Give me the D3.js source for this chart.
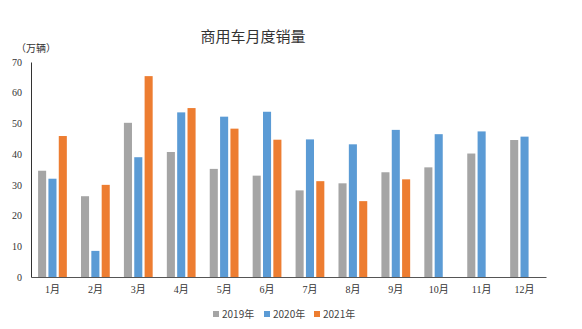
<!DOCTYPE html>
<html>
<head>
<meta charset="utf-8">
<script src="https://cdn.jsdelivr.net/npm/d3@7/dist/d3.min.js"></script>
<style>
  html, body { margin: 0; padding: 0; background: #fff; }
  svg { display: block; }
</style>
</head>
<body>
<svg id="chart" width="582" height="329"></svg>
<script>
// Monthly commercial vehicle sales (10k units)
const months = ["1月","2月","3月","4月","5月","6月","7月","8月","9月","10月","11月","12月"];
const seriesNames = ["2019年","2020年","2021年"];
const sales2019 = [34.6, 26.3, 50.2, 40.7, 35.2, 33.0, 28.2, 30.5, 34.1, 35.7, 40.2, 44.6];
const sales2020 = [32.0, 8.5, 39.0, 53.6, 52.2, 53.8, 44.8, 43.2, 47.9, 46.5, 47.4, 45.7];
const sales2021 = [45.9, 30.0, 65.4, 55.0, 48.3, 44.7, 31.2, 24.7, 31.8];
const yTicks = [0, 10, 20, 30, 40, 50, 60, 70];
const colors = ["#a5a5a5", "#5b9bd5", "#ed7d31"];

const series = [sales2019, sales2020, sales2021];

const svg = d3.select("#chart");
const margin = { left: 31, right: 36, top: 62, bottom: 52 };
const W = 582, H = 329;

const x = d3.scaleBand()
  .domain(months)
  .range([margin.left, W - margin.right])
  .paddingInner(0.33)
  .paddingOuter(0.165);

const xs = d3.scaleBand()
  .domain(d3.range(series.length))
  .range([0, x.bandwidth()])
  .paddingInner(0.22);

const y = d3.scaleLinear().domain([0, 70]).range([H - margin.bottom, margin.top]);

const serif = "'Liberation Serif','Times New Roman','Noto Sans CJK SC',serif";
const sans = "'Noto Sans CJK SC','Noto Sans',sans-serif";

// Title
svg.append("text")
  .attr("x", 253).attr("y", 42)
  .attr("text-anchor", "middle")
  .attr("font-family", sans)
  .attr("font-size", 15)
  .attr("fill", "#333")
  .text("商用车月度销量");

// Unit label
svg.append("text")
  .attr("x", 36).attr("y", 52)
  .attr("text-anchor", "middle")
  .attr("font-family", sans)
  .attr("font-size", 10)
  .attr("fill", "#333")
  .text("（万辆）");

// Bars
const groups = svg.append("g").selectAll("g")
  .data(series)
  .join("g")
  .attr("fill", (d, i) => colors[i]);

groups.each(function(vals, si) {
  d3.select(this).selectAll("rect")
    .data(vals.map((v, mi) => ({ v, m: months[mi] })))
    .join("rect")
    .attr("x", d => x(d.m) + xs(si))
    .attr("width", xs.bandwidth())
    .attr("y", d => y(d.v))
    .attr("height", d => y(0) - y(d.v));
});

// Y axis
const yAxis = svg.append("g")
  .attr("transform", `translate(${margin.left},0)`)
  .call(d3.axisLeft(y).tickValues(yTicks).tickSize(0).tickPadding(9));
yAxis.select(".domain").attr("stroke", "#333").attr("stroke-width", 1);
yAxis.selectAll("text")
  .attr("font-family", serif)
  .attr("font-size", 10)
  .attr("fill", "#333");

// X axis
const xAxis = svg.append("g")
  .attr("transform", `translate(0,${y(0)})`)
  .call(d3.axisBottom(x).tickSize(0).tickPadding(9));
xAxis.select(".domain").attr("stroke", "#555").attr("stroke-width", 1.2);
xAxis.selectAll("text")
  .attr("font-family", serif)
  .attr("font-size", 10)
  .attr("fill", "#333");

// Legend
const legendX = [213, 264, 314];
const legend = svg.append("g").selectAll("g")
  .data(seriesNames)
  .join("g")
  .attr("transform", (d, i) => `translate(${legendX[i]},314)`);
legend.append("rect")
  .attr("x", 0).attr("y", -3)
  .attr("width", 6).attr("height", 6)
  .attr("fill", (d, i) => colors[i]);
legend.append("text")
  .attr("x", 9).attr("y", 0)
  .attr("dy", "0.35em")
  .attr("font-family", sans)
  .attr("font-size", 10)
  .attr("fill", "#444")
  .text(d => d);
</script>
</body>
</html>
